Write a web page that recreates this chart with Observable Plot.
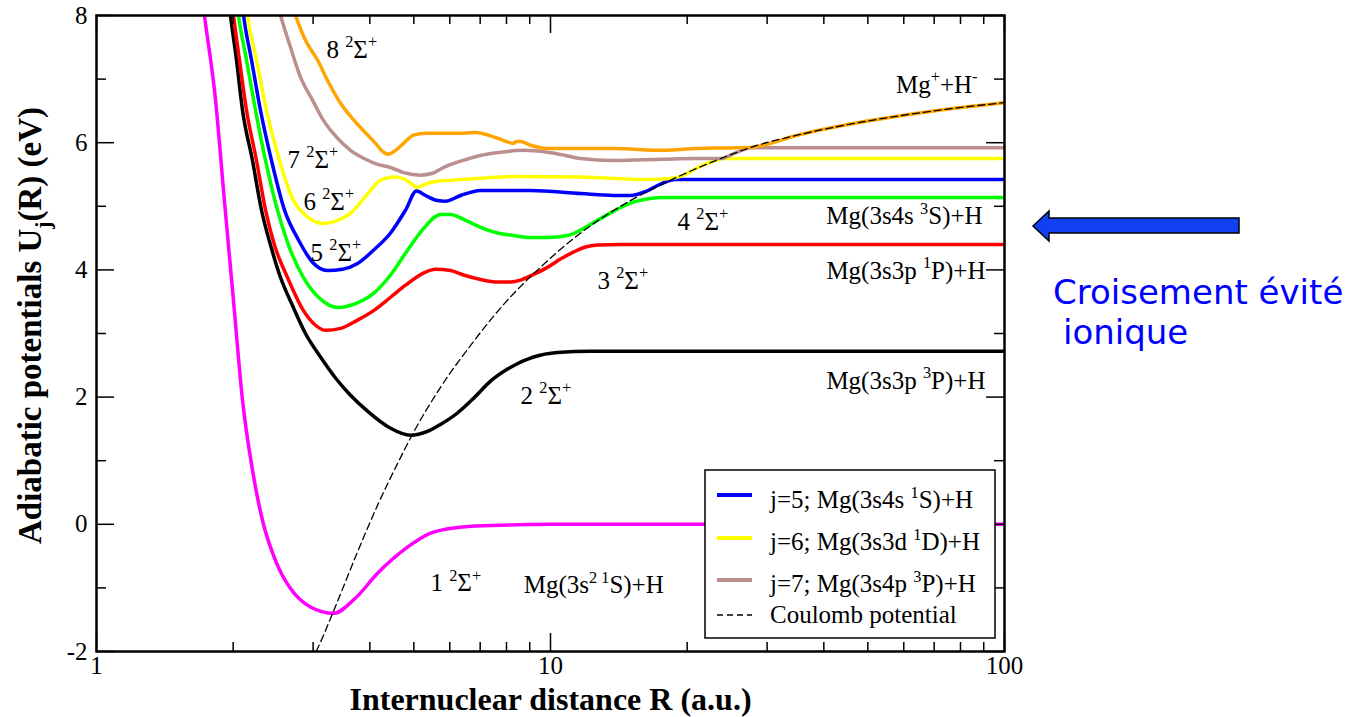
<!DOCTYPE html>
<html><head><meta charset="utf-8">
<script src="https://cdn.jsdelivr.net/npm/d3@7"></script>
<script src="https://cdn.jsdelivr.net/npm/@observablehq/plot@0.6"></script>
<style>
html,body{margin:0;padding:0;background:#fff;}
#wrap{position:relative;width:1363px;height:717px;overflow:hidden;background:#fff;}
#wrap svg{position:absolute;left:0;top:0;}
</style></head><body><div id="wrap"></div>
<script>
// ---- data (R in a.u., U in eV) ----
const R1 = [1.695, 1.729, 1.829, 1.913, 2.003, 2.097, 2.206, 2.321, 2.479, 2.675, 2.961, 3.327, 3.720, 4.160, 4.843, 5.441, 6.240, 7.378, 10, 20, 50, 100];
const U1 = [8.49, 8.0, 6.67, 5.09, 3.52, 1.95, 0.85, 0.06, -0.57, -1.01, -1.30, -1.40, -1.16, -0.77, -0.36, -0.14, -0.05, -0.02, 0, 0, 0, 0];

const R2 = [1.944, 1.973, 2.034, 2.097, 2.206, 2.309, 2.417, 2.543, 2.702, 2.886, 3.115, 3.361, 3.626, 3.953, 4.443, 4.917, 5.359, 5.724, 6.240, 6.769, 7.378, 8.043, 9.175, 10.36, 12.25, 16.60, 100];
const U2 = [8.4, 8.0, 7.30, 6.51, 5.72, 4.94, 4.39, 3.88, 3.44, 3.00, 2.63, 2.30, 2.03, 1.78, 1.51, 1.40, 1.46, 1.57, 1.75, 1.98, 2.25, 2.44, 2.63, 2.70, 2.72, 2.72, 2.72];

const R3 = [1.973, 2.003, 2.065, 2.140, 2.251, 2.357, 2.466, 2.635, 2.857, 3.037, 3.194, 3.448, 3.758, 4.076, 4.443, 4.794, 5.252, 5.580, 6.022, 6.434, 7.014, 7.644, 8.166, 8.591, 9.175, 9.849, 10.52, 11.23, 11.94, 12.69, 14.26, 100];
const U3 = [8.4, 8.0, 7.30, 6.51, 5.72, 4.94, 4.39, 3.88, 3.36, 3.13, 3.05, 3.08, 3.21, 3.36, 3.57, 3.76, 3.95, 4.01, 3.99, 3.92, 3.85, 3.81, 3.81, 3.84, 3.93, 4.04, 4.17, 4.28, 4.36, 4.39, 4.40, 4.40];

const R4 = [2.024, 2.055, 2.140, 2.240, 2.357, 2.504, 2.648, 2.857, 3.083, 3.396, 3.720, 4.076, 4.443, 4.843, 5.252, 5.724, 6.022, 6.499, 7.014, 7.644, 8.292, 9.035, 9.849, 10.90, 11.82, 12.69, 13.76, 15.01, 16.19, 17.47, 19.33, 100];
const U4 = [8.4, 8.0, 7.30, 6.51, 5.72, 4.94, 4.39, 3.88, 3.57, 3.41, 3.47, 3.63, 3.92, 4.31, 4.65, 4.87, 4.87, 4.78, 4.67, 4.58, 4.54, 4.51, 4.51, 4.54, 4.65, 4.78, 4.92, 5.05, 5.11, 5.14, 5.14, 5.14];

const R5 = [2.076, 2.108, 2.195, 2.297, 2.429, 2.595, 2.786, 2.991, 3.227, 3.483, 3.758, 4.076, 4.443, 4.794, 5.069, 5.305, 5.637, 5.872, 6.336, 7.014, 9.035, 11.65, 13.76, 15.01, 16.19, 17.47, 18.85, 100];
const U5 = [8.4, 8.0, 7.30, 6.51, 5.72, 4.94, 4.47, 4.12, 3.99, 4.01, 4.10, 4.31, 4.58, 4.94, 5.24, 5.17, 5.09, 5.08, 5.17, 5.25, 5.25, 5.20, 5.17, 5.17, 5.23, 5.35, 5.42, 5.42];

const R6 = [2.118, 2.151, 2.251, 2.369, 2.530, 2.716, 2.886, 3.162, 3.448, 3.626, 3.816, 4.014, 4.181, 4.332, 4.557, 4.794, 5.093, 5.305, 5.580, 6.022, 7.014, 8.292, 11.65, 16.36, 18.57, 19.33, 21.40, 22.86, 23.92, 100];
const U6 = [8.4, 8.0, 7.30, 6.51, 5.72, 5.09, 4.86, 4.73, 4.80, 4.89, 5.06, 5.25, 5.39, 5.44, 5.46, 5.42, 5.30, 5.35, 5.39, 5.41, 5.44, 5.47, 5.46, 5.42, 5.44, 5.47, 5.63, 5.71, 5.75, 5.75];

const R7 = [2.454, 2.543, 2.675, 2.814, 2.991, 3.162, 3.396, 3.626, 3.914, 4.160, 4.443, 4.746, 5.172, 5.496, 5.812, 6.336, 7.014, 7.762, 8.722, 9.849, 10.79, 11.65, 13.76, 17.74, 21.08, 23.68, 25.55, 27.72, 100];
const U7 = [8.4, 8.0, 7.50, 7.03, 6.67, 6.35, 6.07, 5.88, 5.74, 5.66, 5.61, 5.53, 5.49, 5.52, 5.61, 5.71, 5.80, 5.85, 5.88, 5.85, 5.80, 5.75, 5.72, 5.74, 5.75, 5.75, 5.84, 5.92, 5.92];

const R8 = [2.675, 2.744, 2.886, 3.068, 3.243, 3.448, 3.663, 3.874, 4.118, 4.288, 4.398, 4.557, 4.746, 4.992, 5.305, 5.724, 6.434, 6.838, 7.644, 8.292, 8.419, 8.591, 9.035, 9.849, 11.65, 13.76, 17.74, 21.08, 25.55, 27.72, 35.5, 49.9, 69.8, 100];
const U8 = [8.24, 8.0, 7.61, 7.30, 6.95, 6.62, 6.38, 6.19, 5.99, 5.85, 5.82, 5.88, 5.99, 6.12, 6.15, 6.15, 6.15, 6.16, 6.07, 5.99, 6.02, 6.02, 5.96, 5.91, 5.91, 5.91, 5.88, 5.91, 5.92, 5.93, 6.13, 6.34, 6.50, 6.63];

const Rc = [2.97, 3.07, 3.33, 3.75, 4.16, 4.6, 4.97, 5.72, 6.78, 7.37, 8.15, 9.37, 11.6, 15.0, 19.3, 23.7, 27.7, 35.5, 49.9, 69.8, 100];
const Uc = [-2.15, -1.95, -1.36, -0.45, 0.30, 0.95, 1.42, 2.15, 2.88, 3.21, 3.57, 4.00, 4.57, 5.09, 5.48, 5.75, 5.93, 6.13, 6.34, 6.50, 6.63];

const stateColors = ["#ff00ff", "#000000", "#ff0000", "#00ff00", "#0000ff", "#ffff00", "#bc8f8f", "#ffa500"];
const xMajor = [1, 10, 100];
const xMinor = [2, 3, 4, 5, 6, 7, 8, 9, 20, 30, 40, 50, 60, 70, 80, 90];
const yMajor = [-2, 0, 2, 4, 6, 8];
const yMinor = [-1, 1, 3, 5, 7];

const labelsStart = [
  {R: 3.21, U: 7.46, text: "8 ^{2}Σ^{+}"},
  {R: 2.635, U: 5.73, text: "7 ^{2}Σ^{+}"},
  {R: 2.857, U: 5.07, text: "6 ^{2}Σ^{+}"},
  {R: 2.961, U: 4.27, text: "5 ^{2}Σ^{+}"},
  {R: 19.05, U: 4.76, text: "4 ^{2}Σ^{+}"},
  {R: 12.69, U: 3.83, text: "3 ^{2}Σ^{+}"},
  {R: 8.59, U: 2.02, text: "2 ^{2}Σ^{+}"},
  {R: 5.44, U: -0.93, text: "1 ^{2}Σ^{+}"},
  {R: 8.73, U: -0.96, text: "Mg(3s^{2 1}S)+H"}
];
const labelsEnd = [
  {R: 87.2, U: 6.91, text: "Mg^{+}+H^{-}"},
  {R: 89.5, U: 4.84, text: "Mg(3s4s ^{3}S)+H"},
  {R: 90.8, U: 3.99, text: "Mg(3s3p ^{1}P)+H"},
  {R: 90.8, U: 2.26, text: "Mg(3s3p ^{3}P)+H"}
];
const legendLabels = ["j=5; Mg(3s4s ^{1}S)+H", "j=6; Mg(3s3d ^{1}D)+H", "j=7; Mg(3s4p ^{3}P)+H", "Coulomb potential"];
const legendColors = ["#0000ff", "#ffff00", "#bc8f8f", "#000000"];

// ---- build ----
const Rs = [R1, R2, R3, R4, R5, R6, R7, R8];
const Us = [U1, U2, U3, U4, U5, U6, U7, U8];
const curves = Rs.map((R, k) => ({color: stateColors[k], rows: R.map((r, i) => ({R: r, U: Us[k][i]}))}));
const coulomb = Rc.map((r, i) => ({R: r, U: Uc[i]}));

const ML = 96, MR = 359, MT = 15, MB = 66, WIDTH = 1363, HEIGHT = 717;
const W = WIDTH - ML - MR, H = HEIGHT - MT - MB;
const serif = "'Liberation Serif', 'Times New Roman', serif";

const chart = Plot.plot({
  width: WIDTH, height: HEIGHT,
  marginLeft: ML, marginRight: MR, marginTop: MT, marginBottom: MB,
  x: {type: "log", domain: [1, 100]},
  y: {domain: [-2, 8]},
  style: {fontFamily: serif, fontSize: "25px", background: "white", color: "black"},
  marks: [
    ...curves.map(c => Plot.line(c.rows, {x: "R", y: "U", stroke: c.color, strokeWidth: 3.5, curve: "monotone-x", clip: true})),
    Plot.line(coulomb, {x: "R", y: "U", stroke: "black", strokeWidth: 1.3, strokeDasharray: "7,4", curve: "monotone-x", clip: true}),
    // inward ticks
    Plot.tickY(yMajor, {y: d => d, insetRight: W - 18, stroke: "black", strokeWidth: 1.5}),
    Plot.tickY(yMinor, {y: d => d, insetRight: W - 10, stroke: "black", strokeWidth: 1.5}),
    Plot.tickY(yMajor, {y: d => d, insetLeft: W - 18, stroke: "black", strokeWidth: 1.5}),
    Plot.tickY(yMinor, {y: d => d, insetLeft: W - 10, stroke: "black", strokeWidth: 1.5}),
    Plot.tickX(xMajor, {x: d => d, insetTop: H - 18, stroke: "black", strokeWidth: 1.5}),
    Plot.tickX(xMinor, {x: d => d, insetTop: H - 9, stroke: "black", strokeWidth: 1.5}),
    Plot.tickX(xMajor, {x: d => d, insetBottom: H - 18, stroke: "black", strokeWidth: 1.5}),
    Plot.tickX(xMinor, {x: d => d, insetBottom: H - 9, stroke: "black", strokeWidth: 1.5}),
    Plot.frame({stroke: "black", strokeWidth: 2.5}),
    Plot.axisY({ticks: yMajor, tickSize: 0, tickPadding: 9, fontSize: 25, tickFormat: d => String(d), label: null}),
    Plot.axisX({ticks: xMajor, tickSize: 0, tickPadding: 5, fontSize: 25, tickFormat: d => String(d), label: null}),
    Plot.text(labelsStart, {x: "R", y: "U", text: "text", textAnchor: "start", fontSize: 25, fill: "black"}),
    Plot.text(labelsEnd, {x: "R", y: "U", text: "text", textAnchor: "end", fontSize: 25, fill: "black"}),
    Plot.text(["Internuclear distance R (a.u.)"], {text: d => d, frameAnchor: "bottom", textAnchor: "middle", lineAnchor: "bottom", dy: 58, fontSize: 32, fontWeight: "bold"}),
    Plot.text(["Adiabatic potentials U_{j}(R) (eV)"], {text: d => d, frameAnchor: "left", textAnchor: "middle", lineAnchor: "middle", rotate: -90, dx: -66, dy: -8, fontSize: 33, fontWeight: "bold"})
  ]
});
const wrap = document.getElementById("wrap");
wrap.appendChild(chart);

// overlay: legend + annotation
const NS = "http://www.w3.org/2000/svg";
const ov = document.createElementNS(NS, "svg");
ov.setAttribute("width", WIDTH); ov.setAttribute("height", HEIGHT);
ov.style.pointerEvents = "none";
let html = `<rect x="705" y="470" width="290" height="168" fill="white" stroke="black" stroke-width="1.5"/>`;
const rowLine = [495, 538, 580, 615], rowBase = [508, 550, 592, 623];
legendLabels.forEach((lab, i) => {
  const dashed = i === 3;
  html += `<line x1="717" x2="752" y1="${rowLine[i]}" y2="${rowLine[i]}" stroke="${legendColors[i]}" stroke-width="${dashed ? 1.3 : 4}" ${dashed ? 'stroke-dasharray="6,4"' : ''}/>`;
  html += `<text x="770" y="${rowBase[i]}" font-family="${serif.replace(/'/g, "")}" font-size="25">${lab}</text>`;
});
html += `<polygon points="1033,226 1049,211 1049,218 1239,218 1239,233 1049,233 1049,241" fill="#1040f0" stroke="black" stroke-width="1.5"/>`;
html += `<text x="1053" y="304" font-family="DejaVu Sans, sans-serif" font-size="34" fill="#0000ff">Croisement évité</text>`;
html += `<text x="1063" y="344" font-family="DejaVu Sans, sans-serif" font-size="34" fill="#0000ff">ionique</text>`;
ov.innerHTML = html;
wrap.appendChild(ov);

// rich text: ^{..} superscript, _{..} subscript
function richify(root) {
  root.querySelectorAll("text").forEach(t => {
    const s = t.textContent;
    if (!/[\^_]\{/.test(s)) return;
    const fs = parseFloat(getComputedStyle(t).fontSize) || 24;
    const parts = [];
    const re = /([\^_])\{([^}]*)\}/g;
    let last = 0, m;
    while ((m = re.exec(s))) {
      if (m.index > last) parts.push({txt: s.slice(last, m.index), shift: 0});
      parts.push({txt: m[2], shift: m[1] === "^" ? -0.42 : 0.28});
      last = re.lastIndex;
    }
    if (last < s.length) parts.push({txt: s.slice(last), shift: 0});
    t.textContent = "";
    let cur = 0;
    parts.forEach(p => {
      const ts = document.createElementNS(NS, "tspan");
      ts.textContent = p.txt;
      const target = p.shift * fs;
      if (Math.abs(target - cur) > 0.01) { ts.setAttribute("dy", (target - cur).toFixed(2)); cur = target; }
      if (p.shift !== 0) ts.setAttribute("font-size", (fs * 0.65).toFixed(1));
      t.appendChild(ts);
    });
  });
}
richify(chart);
richify(ov);
</script></body></html>
